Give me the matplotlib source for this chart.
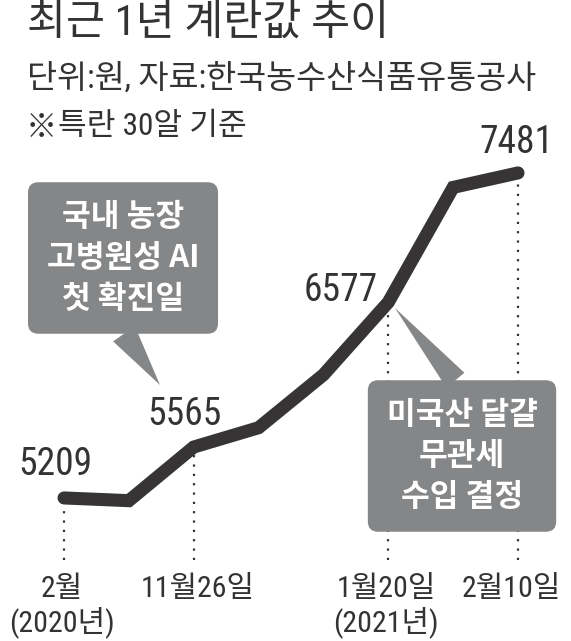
import os
import dataclasses
import matplotlib
matplotlib.use('Agg')
import matplotlib.pyplot as plt
from matplotlib import font_manager as fm

# 계란값 (특란 30알, 원)
prices = [5209, 5190, 5565, 5700, 6070, 6577, 7380, 7481]
# 값을 표시하는 지점
label_idx = [0, 2, 5, 7]
# 날짜 표시
date_idx = [0, 2, 5, 7]
dates = ['2월\n(2020년)', '11월26일', '1월20일\n(2021년)', '2월10일']

title = '최근 1년 계란값 추이'
subtitle = '단위:원, 자료:한국농수산식품유통공사'
note = '특란 30알 기준'
memo1 = '국내 농장\n고병원성 AI\n첫 확진일'
memo2 = '미국산 달걀\n무관세\n수입 결정'

# 숫자용 좁은 글꼴 찾기 (없으면 Liberation Sans)
prefer = ['LiberationSansNarrow-Regular', 'RobotoCondensed-Regular', 'NotoSans-Condensed.',
          'OpenSans-CondensedRegular', 'OpenSans_Condensed-Regular', 'DejaVuSansCondensed.']
bad = ['Bold', 'Italic', 'Light', 'Thin', 'Extra', 'Semi', 'Ultra', 'Black', 'Medium', 'Oblique']
entries = {os.path.basename(f.fname): f for f in fm.fontManager.ttflist}
found = None
for p in prefer:
    for base, f in entries.items():
        if base.startswith(p):
            found = f
            break
    if found:
        break
if found is None:
    for base, f in entries.items():
        if ('Narrow' in base or 'Condensed' in base) and not any(b in base for b in bad):
            found = f
            break
if found is not None:
    fm.fontManager.ttflist.append(dataclasses.replace(found, name='NumCond'))
    num_font = 'NumCond'
    num_size = 27
else:
    num_font = 'Liberation Sans'
    num_size = 25
fams = [num_font, 'Noto Sans CJK KR']

dark = '#333333'
line_col = '#363435'
gray = '#858688'

fig = plt.figure(figsize=(5.71, 6.41), dpi=100)
ax = fig.add_axes([0, 0, 1, 1])
ax.set_xlim(-0.987, 7.817)
ax.set_ylim(4209, 8690)
ax.axis('off')

x = list(range(len(prices)))

# 점선
ax.vlines(date_idx, 4776, [prices[i] for i in date_idx], colors=dark,
          linestyles=(0, (1, 3.2)), linewidth=1.6, zorder=1)

# 선
ax.plot(x, prices, color=line_col, linewidth=9.4, solid_capstyle='round',
        solid_joinstyle='miter', zorder=3)

# 값 표시
offsets = [(-9, 23), (-9, 22), (-48, 1), (-2, 20)]
for i, (dx, dy) in zip(label_idx, offsets):
    ax.annotate(str(prices[i]), xy=(i, prices[i]), xytext=(dx, dy),
                textcoords='offset pixels', ha='center', va='baseline',
                fontsize=num_size, family=fams, color=dark, zorder=4)

# 날짜
date_dx = [-2, 4, -2, -7]
for i, lbl, dx in zip(date_idx, dates, date_dx):
    ax.annotate(lbl, xy=(i, 1 - 575 / 641), xycoords=ax.get_xaxis_transform(),
                xytext=(dx, 0), textcoords='offset pixels', ha='center', va='top',
                fontsize=21.5, family=fams, color=dark, linespacing=1.12)

# 말풍선
box = dict(boxstyle='round,pad=0.6,rounding_size=0.33', fc=gray, ec='none')
ax.annotate(memo1, xy=(160, 256), xycoords='figure pixels',
            xytext=(123, 383), textcoords='figure pixels',
            ha='center', va='center', fontsize=22.5, fontweight='bold',
            family='Noto Sans CJK KR', color='white', linespacing=1.36, zorder=5,
            bbox=box,
            arrowprops=dict(arrowstyle='wedge,tail_width=0.85,shrink_factor=0.5',
                            fc=gray, ec='none', shrinkA=0, shrinkB=0, relpos=(0.42, 0)))
ax.annotate(memo2, xy=(395, 333), xycoords='figure pixels',
            xytext=(462, 185), textcoords='figure pixels',
            ha='center', va='center', fontsize=22.5, fontweight='bold',
            family='Noto Sans CJK KR', color='white', linespacing=1.36, zorder=5,
            bbox=box,
            arrowprops=dict(arrowstyle='wedge,tail_width=0.75,shrink_factor=0.5',
                            fc=gray, ec='none', shrinkA=0, shrinkB=0, relpos=(0.56, 1)))

# 제목
fig.text(27 / 571, 1 - 3 / 641, title, fontsize=30.5, ha='left', va='top',
         family=fams, color=dark)
fig.text(27 / 571, 1 - 63 / 641, subtitle, fontsize=23.5, ha='left', va='top',
         family=fams, color=dark)
fig.text(26 / 571, 1 - 112 / 641, '※', fontsize=22.5, ha='left', va='top',
         family='Noto Sans CJK KR', color=dark)
fig.text(58 / 571, 1 - 112 / 641, note, fontsize=22.5, ha='left', va='top',
         family=fams, color=dark)

fig.savefig('out.png', dpi=100, facecolor='white')
